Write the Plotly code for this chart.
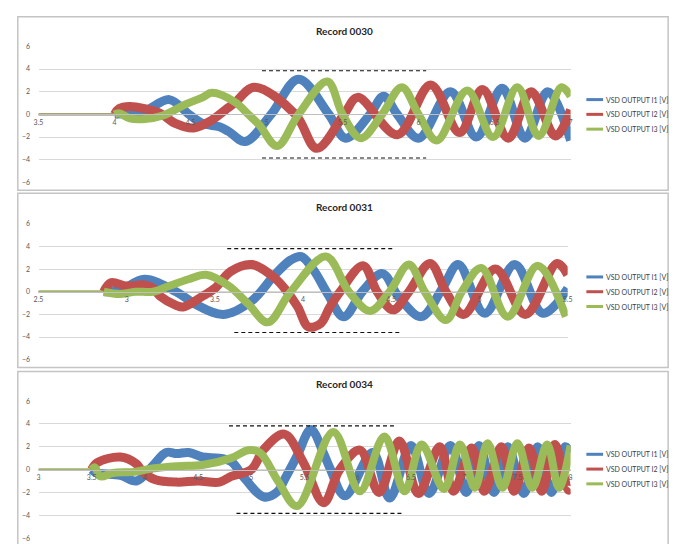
import plotly.graph_objects as go

W, H = 683, 544

# ---------------- Record 0030 ----------------
t_030_i1 = [3.5, 4.0, 4.08, 4.2, 4.36, 4.49, 4.58, 4.69, 4.75, 4.86, 5.03, 5.21, 5.41, 5.52, 5.68, 5.77, 5.86, 6.0, 6.21, 6.38, 6.55, 6.70, 6.85, 7.0]
i1_030 = [0, 0, 0.1, 0.3, 1.3, 0.0, -0.8, -1.1, -1.5, -2.4, 0.0, 3.1, 0.0, -2.1, 0.0, 1.6, 0.0, -2.1, 2.0, -2.0, 2.3, -2.1, 2.0, -2.3]
t_030_i2 = [3.5, 4.0, 4.03, 4.1, 4.2, 4.3, 4.4, 4.52, 4.64, 4.73, 4.79, 4.92, 5.19, 5.33, 5.51, 5.6, 5.86, 6.08, 6.27, 6.42, 6.59, 6.74, 6.9, 7.0]
i2_030 = [0, 0, 0.5, 0.7, 0.5, 0.1, -0.8, -1.2, -0.5, 0.4, 1.0, 2.4, 0.0, -3.0, 0.0, 1.5, -1.8, 2.6, -1.6, 2.2, -2.1, 2.0, -1.9, 0.4]
t_030_i3 = [3.5, 4.0, 4.03, 4.1, 4.2, 4.32, 4.47, 4.58, 4.64, 4.79, 4.88, 4.95, 5.07, 5.21, 5.40, 5.5, 5.62, 5.76, 5.89, 6.0, 6.12, 6.32, 6.49, 6.65, 6.79, 6.94, 7.0]
i3_030 = [0, 0, 0.1, -0.35, -0.4, -0.1, 0.9, 1.5, 1.9, 1.1, 0.0, -0.9, -2.8, 0.0, 2.9, 0.0, -2.1, 0.0, 2.4, 0.0, -2.3, 2.1, -2.0, 2.4, -1.9, 2.4, 1.6]
ticks_030 = [3.5, 4, 4.5, 5, 5.5, 6, 6.5, 7]
start_030 = 4.0
env_030 = {"upper": 3.85, "lower": -3.85, "upper_span": (4.97, 6.05), "lower_span": (4.97, 6.05)}

# ---------------- Record 0031 ----------------
t_031_i1 = [2.5, 2.87, 2.96, 3.1, 3.28, 3.39, 3.55, 3.71, 3.84, 3.93, 3.99, 4.06, 4.14, 4.23, 4.34, 4.45, 4.54, 4.67, 4.79, 4.88, 5.03, 5.20, 5.36, 5.5]
i1_031 = [0, 0, 0.1, 1.1, 0.0, -1.1, -2.0, -0.8, 1.5, 2.8, 3.1, 1.9, -0.2, -2.2, 0.1, 1.6, -0.4, -2.2, 0.3, 2.4, -1.9, 2.4, -1.9, 0.3]
t_031_i2 = [2.5, 2.87, 2.91, 3.0, 3.1, 3.15, 3.19, 3.28, 3.32, 3.43, 3.5, 3.59, 3.71, 3.84, 3.91, 3.97, 4.03, 4.1, 4.15, 4.21, 4.34, 4.42, 4.51, 4.60, 4.72, 4.81, 4.91, 5.09, 5.26, 5.44, 5.5]
i2_031 = [0, 0, 0.8, 0.5, 0.6, 0.3, -0.4, -1.2, -1.35, -0.4, 0.3, 1.8, 2.4, 1.2, 0.0, -1.35, -3.1, -2.8, -1.4, 0.0, 2.3, 0.0, -1.6, 0.0, 2.5, 0.0, -2.0, 2.0, -2.0, 2.5, 1.5]
t_031_i3 = [2.5, 2.87, 2.96, 3.05, 3.15, 3.24, 3.35, 3.45, 3.58, 3.69, 3.80, 3.93, 4.13, 4.26, 4.38, 4.49, 4.60, 4.69, 4.81, 4.90, 5.01, 5.16, 5.33, 5.49]
i3_031 = [0, 0, -0.2, 0.0, 0.0, 0.5, 1.1, 1.5, 0.5, -1.1, -2.7, 0.0, 3.1, 0.0, -1.7, 0.0, 2.4, 0.0, -2.5, 0.0, 2.1, -2.2, 2.3, -2.2]
ticks_031 = [2.5, 3, 3.5, 4, 4.5, 5, 5.5]
start_031 = 2.87
env_031 = {"upper": 3.8, "lower": -3.6, "upper_span": (3.57, 4.52), "lower_span": (3.61, 4.56)}

# ---------------- Record 0034 ----------------
t_034_i1 = [3.0, 3.5, 3.55, 3.77, 3.92, 4.07, 4.2, 4.3, 4.41, 4.54, 4.7, 4.81, 4.94, 5.12, 5.25, 5.31, 5.43, 5.56, 5.68, 5.74, 5.88, 6.14, 6.30, 6.50, 6.67, 6.87, 7.02, 7.14, 7.28, 7.41, 7.56, 7.69, 7.82, 7.95, 8.0]
i1_034 = [0, 0, -0.3, -0.5, -1.0, 0.3, 1.5, 1.4, 1.5, 1.1, 1.0, 0.7, -0.8, -2.4, -1.9, -0.9, 1.2, 3.5, 1.4, 0.1, -2.3, 1.5, -2.5, 2.1, -2.1, 2.1, -2.0, 2.1, -2.0, 2.0, -2.1, 2.0, -2.0, 2.0, 1.5]
t_034_i2 = [3.0, 3.5, 3.55, 3.77, 3.92, 3.98, 4.1, 4.3, 4.5, 4.7, 4.81, 5.0, 5.12, 5.31, 5.49, 5.68, 5.83, 6.02, 6.20, 6.39, 6.57, 6.77, 6.90, 7.07, 7.19, 7.35, 7.47, 7.61, 7.73, 7.85, 7.98, 8.0]
i2_034 = [0, 0, 0.6, 1.1, 0.5, -0.2, -0.9, -1.1, -1.0, -1.1, -0.6, 0.0, 1.8, 3.1, 0.6, -2.9, 0.0, 1.7, -2.0, 2.5, -2.1, 2.0, -1.9, 1.9, -1.9, 2.0, -1.9, 1.9, -1.9, 2.2, -1.8, -1.7]
t_034_i3 = [3.0, 3.5, 3.53, 3.58, 3.7, 3.9, 4.07, 4.3, 4.54, 4.81, 4.97, 5.08, 5.25, 5.43, 5.77, 6.02, 6.25, 6.44, 6.60, 6.81, 6.96, 7.10, 7.22, 7.36, 7.50, 7.64, 7.78, 7.89, 8.0]
i3_034 = [0, 0, 0.2, -0.6, -0.3, -0.2, 0.1, 0.3, 0.4, 1.0, 1.7, 1.5, -1.0, -3.2, 3.3, -1.9, 2.9, -1.9, 2.2, -1.7, 2.2, -1.6, 2.3, -1.6, 2.3, -1.6, 2.2, -1.6, 2.1]
ticks_034 = [3, 3.5, 4, 4.5, 5, 5.5, 6, 6.5, 7, 7.5, 8]
start_034 = 3.5
env_034 = {"upper": 3.83, "lower": -3.83, "upper_span": (4.79, 6.34), "lower_span": (4.86, 6.42)}

series_names = ["VSD OUTPUT I1 [V]", "VSD OUTPUT I2 [V]", "VSD OUTPUT I3 [V]"]
colors = ["#4F81BD", "#C0504D", "#9BBB59"]
widths = [9, 9, 8]

records = [
    ("Record 0030", [(t_030_i1, i1_030), (t_030_i2, i2_030), (t_030_i3, i3_030)], ticks_030, start_030, env_030),
    ("Record 0031", [(t_031_i1, i1_031), (t_031_i2, i2_031), (t_031_i3, i3_031)], ticks_031, start_031, env_031),
    ("Record 0034", [(t_034_i1, i1_034), (t_034_i2, i2_034), (t_034_i3, i3_034)], ticks_034, start_034, env_034),
]

# pixel layout of each chart block: (box top, box bottom, plot top, plot bottom, plot right, title y, legend rows)
blocks = [
    (12, 188, 42, 180, 574, 26, (96, 111, 126)),
    (191, 368, 222, 360, 571, 205, (276, 291, 306)),
    (372, 560, 402, 541, 574, 385, (456, 471, 486)),
]
plot_left = 34


def px_x(p):
    return p / W


def px_y(p):
    return 1 - p / H


fig = go.Figure()
shapes = []
annotations = []
layout_axes = {}

for k, ((title, data, ticks, start, env), blk) in enumerate(zip(records, blocks), start=1):
    box_top, box_bot, p_top, p_bot, p_right, title_y, leg_rows = blk
    xa = "x" if k == 1 else f"x{k}"
    ya = "y" if k == 1 else f"y{k}"
    xkey = "xaxis" if k == 1 else f"xaxis{k}"
    ykey = "yaxis" if k == 1 else f"yaxis{k}"

    for (t, v), name, col, w in zip(data, series_names, colors, widths):
        quiet_t = [a for a in t if a <= start]
        quiet_v = [b for a, b in zip(t, v) if a <= start]
        live_t = [a for a in t if a >= start]
        live_v = [b for a, b in zip(t, v) if a >= start]
        fig.add_trace(go.Scatter(x=quiet_t, y=quiet_v, mode="lines", name=name,
                                 line=dict(color=col, width=1.8), xaxis=xa, yaxis=ya,
                                 showlegend=False, hoverinfo="skip"))
        fig.add_trace(go.Scatter(x=live_t, y=live_v, mode="lines", name=name,
                                 line=dict(color=col, width=w, shape="spline", smoothing=1.0),
                                 xaxis=xa, yaxis=ya, showlegend=False))

    zero_pos = px_y(p_top + (p_bot - p_top) / 2)
    layout_axes[xkey] = dict(
        domain=[px_x(plot_left), px_x(p_right)], range=[ticks[0], ticks[-1]],
        anchor="free", position=zero_pos, tickvals=ticks,
        ticktext=[f"{v:g}" for v in ticks], showgrid=False, zeroline=False,
        showline=True, linecolor="#bfbfbf", linewidth=1,
        ticks="outside", ticklen=1, tickcolor="rgba(0,0,0,0)",
        tickfont=dict(size=7, color="#595959"),
    )
    layout_axes[ykey] = dict(
        domain=[px_y(p_bot), px_y(p_top)], range=[-6, 6], dtick=2, anchor=xa,
        showgrid=True, gridcolor="#d9d9d9", gridwidth=1, zeroline=False, showline=False,
        tickfont=dict(size=7, color="#595959"),
        ticks="outside", ticklen=6, tickcolor="rgba(0,0,0,0)",
    )

    # chart block frame
    shapes.append(dict(type="rect", xref="paper", yref="paper",
                       x0=px_x(13), x1=px_x(673), y0=px_y(box_bot), y1=px_y(box_top),
                       line=dict(color="#c4c4c4", width=1.5), layer="below"))

    # envelope markers
    for lvl, span in ((env["upper"], env["upper_span"]), (env["lower"], env["lower_span"])):
        shapes.append(dict(type="line", xref=xa, yref=ya, x0=span[0], x1=span[1], y0=lvl, y1=lvl,
                           line=dict(color="#111111", width=1.2, dash="4px,3px")))

    annotations.append(dict(text=f"<b>{title}</b>", xref="paper", yref="paper",
                            x=px_x(345), y=px_y(title_y), showarrow=False,
                            xanchor="center", yanchor="middle",
                            font=dict(size=10, color="#262626")))

    # legend entries
    for row, name, col in zip(leg_rows, series_names, colors):
        shapes.append(dict(type="line", xref="paper", yref="paper",
                           x0=px_x(590), x1=px_x(607), y0=px_y(row), y1=px_y(row),
                           line=dict(color=col, width=3)))
        annotations.append(dict(text=name, xref="paper", yref="paper", x=px_x(608), y=px_y(row),
                                showarrow=False, xanchor="left", yanchor="middle",
                                font=dict(size=7, color="#404040")))

fig.update_layout(
    width=W, height=H, margin=dict(l=0, r=0, t=0, b=0),
    paper_bgcolor="white", plot_bgcolor="white",
    font=dict(family="Lato, Open Sans, sans-serif"),
    showlegend=False, shapes=shapes, annotations=annotations,
    **layout_axes,
)

fig.write_html("out.html")
